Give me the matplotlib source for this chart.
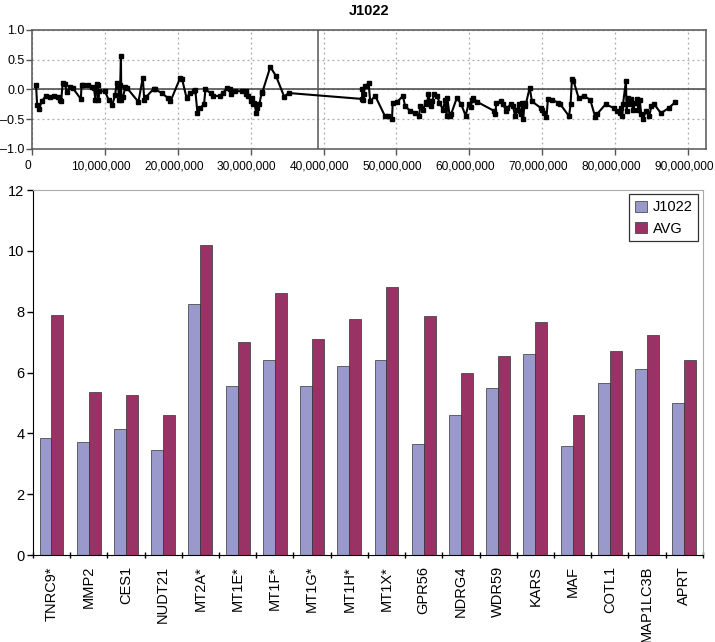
import numpy as np
import matplotlib
matplotlib.use('Agg')
import matplotlib.pyplot as plt
import matplotlib.transforms as mtransforms
from matplotlib.ticker import FuncFormatter

plt.rcParams['font.family'] = ['Liberation Sans', 'DejaVu Sans']

# Top panel: log-ratio trace along the chromosome (positions in Mb)
trace_pos_mb = [
    0.55, 0.7, 1.0, 1.3, 1.9, 2.5, 3.0, 3.6, 3.9, 4.0, 4.2, 4.5, 4.8, 5.2, 5.6,
    6.7, 6.8, 7.0, 7.7, 8.2, 8.5, 8.7, 8.9, 9.0, 9.1, 9.2, 10.0, 10.5, 11.0,
    11.4, 11.6, 11.8, 12.0, 12.1, 12.2, 12.25, 12.5, 12.8, 13.0, 14.6, 15.2,
    15.4, 15.7, 16.7, 16.9, 17.8, 18.7, 19.0, 20.35, 20.6, 21.2, 21.7, 22.2,
    22.4, 22.7, 23.1, 23.6, 23.8, 24.5, 24.9, 25.8, 26.2, 26.8, 27.2, 27.3,
    27.9, 28.8, 29.3, 29.4, 29.7, 30.0, 30.15, 30.3, 30.5, 30.8, 30.9, 31.2,
    31.5, 31.6, 32.7, 33.5, 34.6, 35.2,
    45.3, 45.35, 45.45, 45.5, 45.7, 46.2, 46.4, 47.1, 48.4, 48.9, 49.4, 49.5,
    50.1, 50.9, 51.2, 51.9, 52.6, 53.1, 53.3, 53.7, 54.0, 54.2, 54.4, 54.7,
    54.9, 55.2, 55.6, 55.9, 56.4, 56.7, 56.9, 57.0, 57.3, 57.5, 58.3, 58.9,
    59.5, 59.9, 60.2, 60.4, 60.5, 61.1, 63.4, 63.6, 63.7, 64.3, 64.7, 65.0,
    65.2, 65.7, 66.0, 66.3, 66.6, 66.8, 66.9, 67.1, 67.3, 67.4, 67.6, 67.7,
    68.3, 68.6, 69.8, 70.0, 70.3, 70.6, 70.8, 71.4, 72.2, 72.5, 73.7, 73.9,
    74.1, 74.3, 75.0, 75.7, 76.6, 77.3, 77.5, 78.7, 79.8, 80.3, 80.7, 80.8,
    81.0, 81.1, 81.5, 81.6, 81.8, 82.0, 82.2, 82.5, 82.8, 83.0, 83.2, 83.4,
    83.6, 83.9, 84.2, 84.7, 85.0, 85.4, 86.3, 87.4, 88.3,
]
trace_vals = [
    0.08, -0.27, -0.33, -0.2, -0.11, -0.13, -0.11, -0.12, -0.17, -0.2, 0.11, 0.09, -0.05, 0.04, 0.02,
    -0.16, 0.08, 0.07, 0.08, 0.04, 0.02, -0.17, 0.09, 0.07, -0.17, -0.03, -0.03, -0.17, -0.26,
    -0.1, 0.1, 0.05, -0.17, 0.08, 0.57, -0.17, -0.12, 0.04, 0.03, -0.21, 0.2,
    -0.17, -0.12, 0.01, 0.0, -0.06, -0.15, -0.2, 0.2, 0.17, -0.14, -0.06, -0.03,
    -0.01, -0.39, -0.31, -0.25, 0.0, -0.06, -0.11, -0.11, -0.06, 0.03, 0.0, -0.08,
    -0.03, -0.03, -0.03, -0.08, -0.11, -0.2, -0.14, -0.25, -0.22, -0.4, -0.31, -0.25,
    -0.06, -0.05, 0.38, 0.22, -0.12, -0.06,
    -0.16, 0.01, -0.17, -0.08, 0.06, 0.1, -0.2, -0.11, -0.44, -0.45, -0.5, -0.22,
    -0.21, -0.11, -0.28, -0.36, -0.39, -0.44, -0.28, -0.34, -0.21, -0.25, -0.07, -0.28,
    -0.2, -0.07, -0.11, -0.22, -0.34, -0.17, -0.45, -0.14, -0.44, -0.42, -0.14, -0.25,
    -0.44, -0.25, -0.3, -0.17, -0.14, -0.21, -0.36, -0.42, -0.22, -0.2, -0.25, -0.36,
    -0.31, -0.25, -0.28, -0.45, -0.34, -0.25, -0.36, -0.42, -0.22, -0.5, -0.22, -0.28,
    0.03, -0.2, -0.31, -0.34, -0.39, -0.47, -0.16, -0.18, -0.22, -0.25, -0.45, -0.25,
    0.18, 0.15, -0.14, -0.11, -0.17, -0.47, -0.42, -0.25, -0.31, -0.36, -0.4, -0.31,
    -0.45, -0.25, 0.14, -0.36, -0.14, -0.25, -0.16, -0.34, -0.22, -0.16, -0.34, -0.17,
    -0.42, -0.5, -0.36, -0.45, -0.28, -0.25, -0.4, -0.31, -0.21,
]
centromere_mb = 39.3
top_title = 'J1022'

# Bottom panel: expression per gene
genes = ['TNRC9*', 'MMP2', 'CES1', 'NUDT21', 'MT2A*', 'MT1E*', 'MT1F*', 'MT1G*',
         'MT1H*', 'MT1X*', 'GPR56', 'NDRG4', 'WDR59', 'KARS', 'MAF', 'COTL1',
         'MAP1LC3B', 'APRT']
j1022 = [3.85, 3.7, 4.15, 3.45, 8.25, 5.55, 6.4, 5.55, 6.2, 6.4, 3.65, 4.6,
         5.5, 6.6, 3.6, 5.65, 6.1, 5.0]
avg = [7.9, 5.35, 5.25, 4.6, 10.2, 7.0, 8.6, 7.1, 7.75, 8.8, 7.85, 6.0,
       6.55, 7.65, 4.6, 6.7, 7.25, 6.4]

fig = plt.figure(figsize=(7.15, 6.42), dpi=100)

# ---- top trace panel ----
ax1 = fig.add_axes([0.0448, 0.768, 0.9427, 0.1854])
x_bp = np.array(trace_pos_mb) * 1e6
ax1.plot(x_bp, trace_vals, color='black', lw=1.5, marker='s', markersize=2.6, zorder=3)
ax1.axhline(0, color='#444444', lw=1.1, zorder=2)
ax1.axvline(centromere_mb * 1e6, color='#555555', lw=1.1, zorder=2)
ax1.set_xlim(0, 92.5e6)
ax1.set_ylim(-1.0, 1.0)
ax1.set_xticks(np.arange(0, 90e6 + 1, 10e6))
ax1.set_yticks([-1.0, -0.5, 0.0, 0.5, 1.0])
ax1.xaxis.set_major_formatter(FuncFormatter(lambda v, p: f'{int(round(v)):,}'))
ax1.yaxis.set_major_formatter(FuncFormatter(lambda v, p: f'{v:.1f}'.replace('-', '\u2013')))
ax1.grid(True, color='#aaaaaa', linestyle=(0, (1.5, 2.5)), lw=0.9)
ax1.set_axisbelow(True)
for s in ax1.spines.values():
    s.set_color('#555555')
    s.set_linewidth(1.1)
ax1.tick_params(direction='out', length=4, width=1, color='#555555', pad=2)
ax1.tick_params(axis='x', labelsize=8.6, pad=4)
ax1.tick_params(axis='y', labelsize=9, pad=1.5)
ax1.set_title(top_title, fontsize=10.5, fontweight='bold', pad=11)
# nudge the tick labels a little left, like the original
shift = mtransforms.ScaledTranslation(-4 / 100, 0, fig.dpi_scale_trans)
for lab in ax1.get_xticklabels():
    lab.set_transform(lab.get_transform() + shift)

# ---- bottom bar panel ----
ax2 = fig.add_axes([0.046, 0.1355, 0.937, 0.5685])
x = np.arange(len(genes))
w = 0.32
ax2.bar(x - w / 2, j1022, w, color='#9999cc', edgecolor='#333333', lw=0.5, label='J1022')
ax2.bar(x + w / 2, avg, w, color='#993366', edgecolor='#333333', lw=0.5, label='AVG')
ax2.set_xlim(-0.5, len(genes) - 0.5)
ax2.set_ylim(0, 12)
ax2.set_yticks(np.arange(0, 13, 2))
ax2.set_xticks(x)
ax2.set_xticklabels(genes, rotation=90, fontsize=10.5)
ax2.set_xticks(np.arange(-0.5, len(genes), 1), minor=True)
ax2.tick_params(axis='x', which='major', length=0, pad=8)
ax2.tick_params(axis='x', which='minor', length=5, width=1, direction='inout')
ax2.tick_params(axis='y', direction='out', length=4, width=1, labelsize=10.5, pad=2)
ax2.spines['left'].set_color('black')
ax2.spines['bottom'].set_color('black')
ax2.spines['top'].set_color('#aaaaaa')
ax2.spines['right'].set_color('#aaaaaa')
leg = ax2.legend(loc='upper right', fontsize=10.5, frameon=True, fancybox=False,
                 borderaxespad=0.3, handlelength=0.8, handleheight=0.8,
                 handletextpad=0.4, labelspacing=0.5, borderpad=0.4)
leg.get_frame().set_edgecolor('black')
leg.get_frame().set_linewidth(0.9)

fig.savefig('out.png', dpi=100)
